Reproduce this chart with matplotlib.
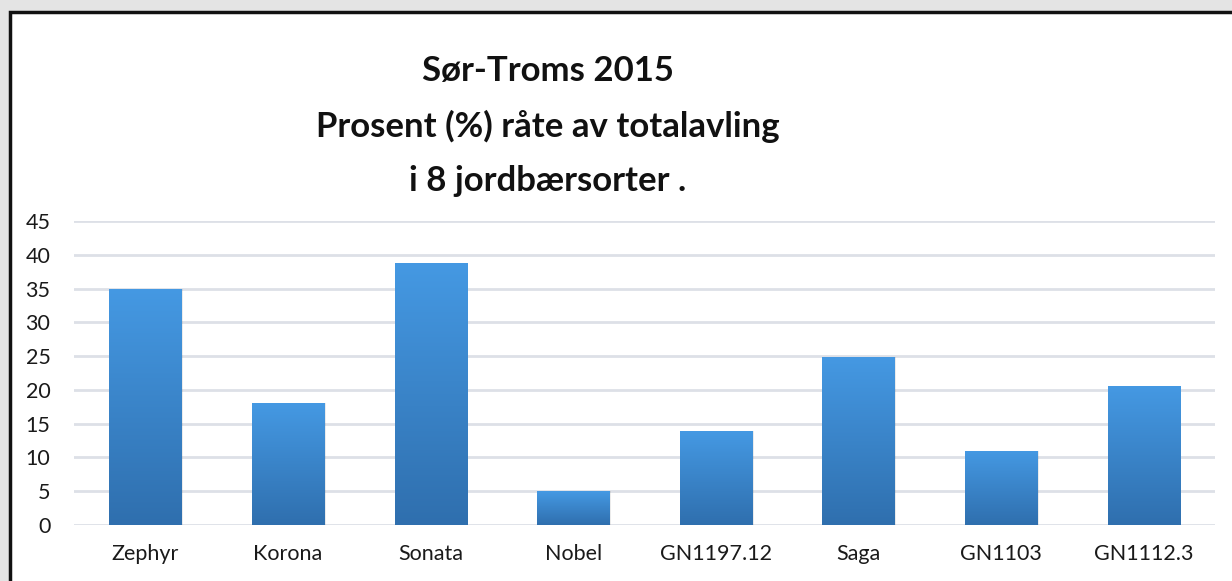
import numpy as np
import matplotlib
matplotlib.use("Agg")
import matplotlib.pyplot as plt
from matplotlib.patches import Rectangle
from matplotlib.colors import LinearSegmentedColormap

plt.rcParams['font.family'] = ['Lato', 'DejaVu Sans']

sorter = ["Zephyr", "Korona", "Sonata", "Nobel", "GN1197.12", "Saga", "GN1103", "GN1112.3"]
raate = [35.0, 18.0, 38.8, 5.0, 13.9, 24.9, 11.0, 20.6]
yticks = [0, 5, 10, 15, 20, 25, 30, 35, 40, 45]
tittel = "Sør-Troms 2015\nProsent (%) råte av totalavling\ni 8 jordbærsorter ."

fig = plt.figure(figsize=(12.32, 5.81), dpi=100)
fig.patch.set_facecolor('#e4e4e4')

# white chart area with dark frame (right/bottom run off the image)
fig.add_artist(Rectangle((10 / 1232, -0.2), 1.3, 1.2 - 12 / 581,
                         transform=fig.transFigure, facecolor='white',
                         edgecolor='#111111', linewidth=2.5, zorder=-5))

ax = fig.add_axes([74 / 1232, 1 - 525 / 581, (1215 - 74) / 1232, (525 - 221) / 581])
ax.set_zorder(2)
ax.set_facecolor('none')

x = np.arange(len(sorter))
bars = ax.bar(x, raate, width=0.505, color='none', edgecolor='none', zorder=3)

cmap = LinearSegmentedColormap.from_list('blaa', ['#2f6fae', '#4599e3'])
grad = np.linspace(0, 1, 256).reshape(-1, 1)
for b in bars:
    # soft shadow
    ax.add_patch(Rectangle((b.get_x() + 0.012, 0), b.get_width(), b.get_height(),
                           facecolor='#000000', alpha=0.08, edgecolor='none', zorder=2))
    im = ax.imshow(grad, cmap=cmap, origin='lower', aspect='auto',
                   extent=[b.get_x(), b.get_x() + b.get_width(), 0, b.get_height()],
                   zorder=3)
    im.set_clip_path(b)

ax.set_xlim(-0.5, len(sorter) - 0.5)
ax.set_ylim(0, 45)
ax.set_yticks(yticks)
ax.set_xticks(x)
ax.set_xticklabels(sorter)
ax.yaxis.grid(True, color='#dde0e7', linewidth=2)
ax.set_axisbelow(True)
for s in ax.spines.values():
    s.set_visible(False)
ax.tick_params(length=0, labelsize=15.5, colors='#1a1a1a')
ax.tick_params(axis='x', pad=14)
ax.tick_params(axis='y', pad=17)

fig.text(548 / 1232, 1 - 126 / 581, tittel, ha='center', va='center',
         fontsize=25, fontweight='bold', linespacing=1.85, color='#111111')

fig.savefig("out.png", dpi=100, facecolor=fig.get_facecolor())
